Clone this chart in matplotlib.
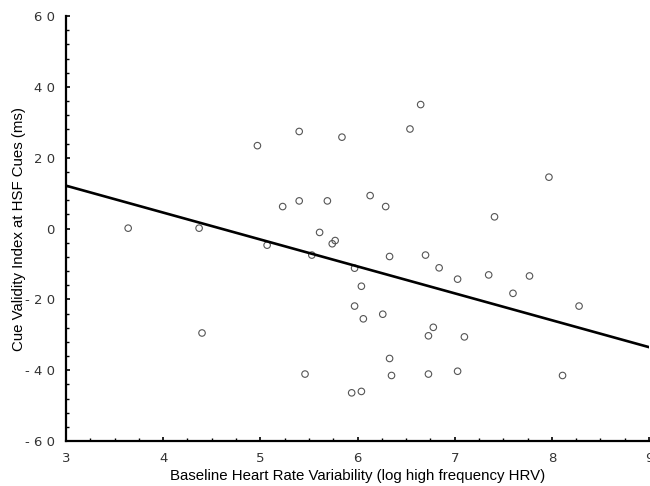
import matplotlib
matplotlib.use("Agg")
import matplotlib.pyplot as plt
from matplotlib import font_manager
import numpy as np

# Data
hrv = [3.64, 4.37, 4.40, 4.97, 5.40, 5.84, 5.23, 5.40, 5.69, 5.07, 5.61, 5.77,
       5.74, 5.53, 6.65, 6.54, 7.97, 6.13, 6.29, 7.41, 6.33, 6.70, 5.97, 6.04,
       5.97, 6.06, 6.26, 6.33, 5.46, 6.35, 6.84, 7.03, 7.35, 7.77, 7.60, 8.28,
       6.78, 6.73, 7.10, 6.73, 7.03, 8.11, 5.94, 6.04]
cue_validity = [0.1, 0.1, -29.5, 23.4, 27.4, 25.8, 6.2, 7.8, 7.8, -4.7, -1.1, -3.4,
                -4.3, -7.5, 35.0, 28.1, 14.5, 9.3, 6.2, 3.3, -7.9, -7.5, -11.2, -16.3,
                -21.9, -25.5, -24.2, -36.7, -41.1, -41.5, -11.1, -14.3, -13.1, -13.4, -18.3, -21.9,
                -27.9, -30.3, -30.6, -41.1, -40.3, -41.5, -46.4, -46.0]
fit_intercept_at_3 = 12.1
fit_slope = -7.6
x_ticks = [3, 4, 5, 6, 7, 8, 9]
y_ticks = [-60, -40, -20, 0, 20, 40, 60]
x_ticklabels = ["3", "4", "5", "6", "7", "8", "9"]
y_ticklabels = ["- 6 0", "- 4 0", "- 2 0", "0", "2 0", "4 0", "6 0"]

names = {f.name for f in font_manager.fontManager.ttflist}
narrow = "Liberation Sans Narrow" if "Liberation Sans Narrow" in names else "DejaVu Sans"
label_font = "Liberation Sans" if "Liberation Sans" in names else "DejaVu Sans"

fig = plt.figure(figsize=(6.5, 4.86), dpi=100)
ax = fig.add_axes([0.1015, 0.0926, 0.8970, 0.8744])

ax.scatter(hrv, cue_validity, s=22, facecolors="none", edgecolors="#555555",
           linewidths=0.8, zorder=3)

lx = np.array([3.0, 9.0])
ly = fit_intercept_at_3 + fit_slope * (lx - 3.0)
ax.plot(lx, ly, color="black", linewidth=1.9, zorder=4)

ax.set_xlim(3, 9)
ax.set_ylim(-60, 60)
ax.set_xticks(x_ticks)
ax.set_xticklabels(x_ticklabels)
ax.set_yticks(y_ticks)
ax.set_yticklabels(y_ticklabels)
ax.set_xticks(np.arange(3, 9.01, 0.25), minor=True)
ax.set_yticks(np.arange(-60, 60.1, 4), minor=True)

for s in ["top", "right"]:
    ax.spines[s].set_visible(False)
for s in ["left", "bottom"]:
    ax.spines[s].set_linewidth(1.6)

ax.tick_params(which="major", direction="in", length=3, width=1.2,
               labelsize=9.5, pad=8)
ax.tick_params(which="minor", direction="in", length=2, width=1.0)
for lab in ax.get_xticklabels() + ax.get_yticklabels():
    lab.set_family(narrow)
    lab.set_color("#333333")

ax.set_xlabel("Baseline Heart Rate Variability (log high frequency HRV)",
              fontsize=10.8, family=label_font, va="center")
ax.set_ylabel("Cue Validity Index at HSF Cues (ms)",
              fontsize=10.8, family=label_font, va="center")
ax.xaxis.set_label_coords(0.5, -0.082)
ax.yaxis.set_label_coords(-0.081, 0.5)

fig.savefig("out.png", dpi=100)
